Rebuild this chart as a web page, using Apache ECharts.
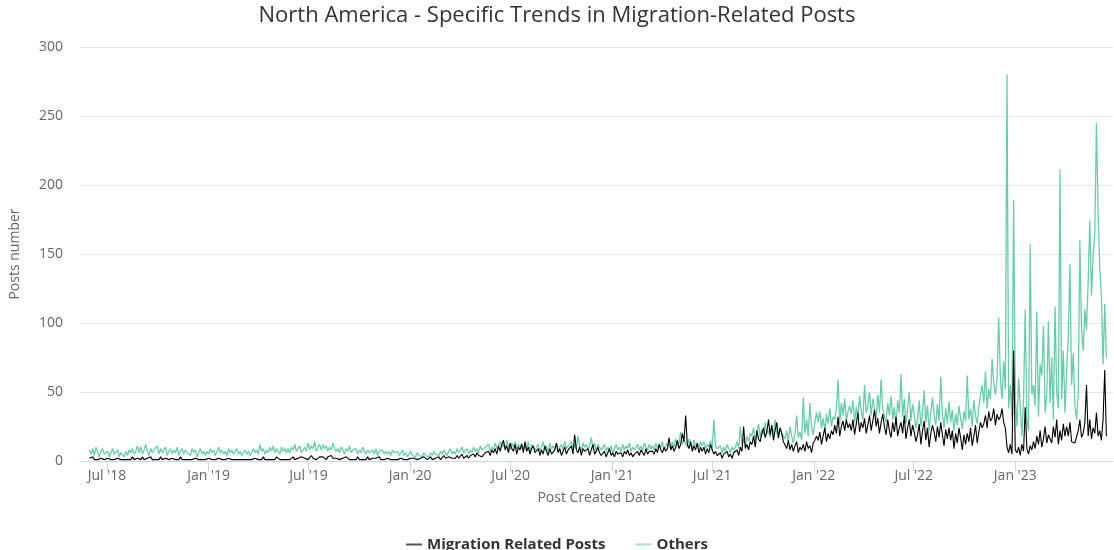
<!DOCTYPE html>
<html>
<head>
<meta charset="utf-8">
<script src="https://cdn.jsdelivr.net/npm/echarts@6/dist/echarts.min.js"></script>
<style>
html,body{margin:0;padding:0;background:#fff}
#chart{width:1114px;height:550px}
</style>
</head>
<body>
<div id="chart"></div>
<script>
// one value every 3 days, starting 2018-05-30
var startDate = '2018-05-30';
var stepDays = 3;

var tickDates = ['2018-07-01','2019-01-01','2019-07-01','2020-01-01','2020-07-01',
  '2021-01-01','2021-07-01','2022-01-01','2022-07-01','2023-01-01'];
var monthNames = ['Jan','Feb','Mar','Apr','May','Jun','Jul','Aug','Sep','Oct','Nov','Dec'];

var migration = [
  2,1,3,1,2,1,1,2,3,1,
  1,2,1,1,2,1,1,2,1,1,
  1,1,2,1,2,1,3,1,2,2,
  2,1,3,1,2,2,1,3,1,2,
  1,2,1,3,1,2,2,1,1,2,
  2,1,1,2,1,3,1,2,1,1,
  1,2,1,1,2,1,1,2,1,1,
  1,1,2,1,1,2,1,1,2,1,
  1,2,1,1,2,1,1,2,1,1,
  1,1,1,2,1,1,1,2,1,1,
  2,1,1,2,1,3,1,2,1,1,
  1,2,1,3,2,1,2,1,2,1,
  2,1,2,3,1,2,2,1,3,2,
  2,3,1,2,4,2,3,1,2,3,
  2,3,2,1,3,2,4,2,1,2,
  3,1,2,2,1,3,2,1,2,1,
  2,1,3,1,2,1,2,1,3,1,
  1,2,1,2,1,3,1,2,1,2,
  2,1,1,2,1,2,1,1,2,1,
  1,2,1,1,2,1,2,1,1,2,
  2,1,3,2,1,2,3,1,2,2,
  2,3,1,2,4,2,1,3,2,2,
  3,2,4,2,3,5,2,3,4,2,
  4,3,5,3,6,4,5,3,4,6,
  5,7,4,8,6,9,5,11,7,12,
  15,8,11,6,13,9,7,12,5,10,
  8,12,6,14,7,10,5,9,11,6,
  6,9,4,8,5,11,7,4,9,5,
  5,8,13,6,9,4,7,10,5,8,
  7,11,5,19,8,6,10,4,9,7,
  6,9,4,8,12,5,7,10,6,4,
  5,7,3,6,9,4,6,3,7,5,
  4,6,3,7,5,8,4,6,3,5,
  5,7,4,8,6,4,9,5,7,6,
  7,5,9,6,12,8,6,10,7,9,
  17,8,11,7,10,15,9,12,20,14,
  33,12,9,14,7,11,8,13,6,10,
  7,10,5,9,6,12,8,5,7,4,
  3,6,2,5,4,7,3,5,2,6,
  5,8,4,10,7,25,9,12,8,14,
  12,18,10,22,16,14,20,24,17,21,
  30,19,26,15,22,28,17,24,20,14,
  13,9,15,8,12,7,11,14,6,10,
  8,12,7,14,9,11,6,13,15,18,
  15,21,12,18,24,14,20,16,22,19,
  26,20,32,18,25,29,22,30,24,27,
  22,30,19,27,35,21,28,24,31,20,
  26,33,22,29,37,25,31,20,28,34,
  25,19,30,22,17,28,21,32,18,24,
  28,20,33,16,24,30,18,26,21,14,
  19,27,12,22,29,15,24,10,20,26,
  21,14,25,17,28,19,11,23,16,24,
  15,22,9,20,13,24,17,8,19,12,
  20,14,24,11,18,26,13,21,28,24,
  27,33,24,36,29,31,38,26,34,30,
  32,38,28,24,10,6,12,5,80,8,
  6,10,4,12,7,39,9,5,11,8,
  14,9,18,12,22,10,16,25,13,19,
  20,13,25,17,30,12,22,15,27,18,
  25,18,28,14,13,13,13,22,30,17,
  20,28,55,18,30,16,24,20,35,18,
  22,15,30,66,18
];

var others = [
  8,5,9,4,10,6,3,7,9,5,
  4,7,3,6,9,5,4,8,3,6,
  5,3,7,4,8,6,9,5,7,11,
  6,10,5,8,12,7,4,9,6,8,
  7,11,5,9,6,8,10,4,7,9,
  5,8,6,10,4,7,9,5,8,6,
  7,4,9,6,8,3,6,9,5,7,
  4,7,5,9,6,8,4,7,10,6,
  8,5,7,4,9,6,8,5,7,9,
  5,7,4,6,8,5,7,4,6,9,
  6,8,5,12,7,9,5,8,6,10,
  7,11,6,9,8,5,10,7,9,6,
  9,6,10,8,12,7,9,11,6,8,
  10,7,13,8,11,9,14,7,10,12,
  8,12,9,11,7,10,8,13,9,7,
  9,6,10,8,5,9,7,11,6,8,
  7,9,5,8,6,10,7,5,8,6,
  6,8,5,9,4,7,6,8,5,7,
  5,7,4,8,6,5,7,4,6,8,
  4,6,3,5,7,4,5,3,6,4,
  5,3,6,4,5,3,6,4,7,5,
  6,4,7,5,8,6,4,7,9,5,
  7,5,9,6,8,10,6,7,9,5,
  8,6,10,7,9,6,11,8,7,10,
  9,12,7,10,8,13,9,11,14,10,
  12,9,15,11,8,13,10,14,9,12,
  10,13,8,11,9,14,7,12,10,8,
  9,12,7,10,14,8,11,6,13,9,
  11,8,13,7,10,12,8,14,9,11,
  10,14,8,12,9,18,11,7,13,10,
  12,8,11,17,9,13,7,12,10,8,
  9,12,7,10,8,11,6,9,12,8,
  10,7,12,8,11,9,13,7,10,8,
  9,12,8,11,7,13,10,8,12,9,
  11,8,13,9,12,10,14,8,11,13,
  12,9,14,10,16,11,13,21,12,15,
  14,10,16,12,9,15,11,13,10,14,
  11,14,9,12,10,15,8,30,11,9,
  8,11,6,10,7,12,9,6,10,8,
  10,14,9,25,12,16,11,18,14,20,
  18,24,15,21,27,17,23,19,28,20,
  22,17,25,19,30,21,16,24,20,18,
  16,22,14,25,18,13,20,33,17,21,
  15,46,20,30,18,42,25,19,28,35,
  28,36,24,31,22,34,27,38,25,32,
  30,38,59,27,42,33,45,29,36,40,
  34,44,28,39,31,47,36,30,55,35,
  40,50,33,45,38,30,48,35,59,37,
  36,28,42,33,47,30,39,26,44,35,
  63,32,45,27,38,50,29,41,34,24,
  30,44,25,36,51,28,40,22,35,46,
  33,26,41,29,61,35,24,38,27,43,
  28,37,22,34,26,40,31,23,36,29,
  62,30,38,25,44,33,27,39,48,55,
  42,65,38,52,45,74,56,48,60,104,
  60,45,72,52,280,38,55,30,189,45,
  25,60,40,18,45,110,30,22,157,48,
  55,40,108,32,70,62,98,35,48,101,
  42,75,30,112,50,38,211,45,80,35,
  65,90,143,55,78,40,30,48,160,95,
  80,110,95,130,174,120,150,165,245,181,
  140,120,70,114,75
];

var DAY = 86400000;
var t0 = Date.parse(startDate + 'T00:00:00Z');

function toPairs(arr) {
  var out = [];
  for (var i = 0; i < arr.length; i++) {
    out.push([t0 + i * stepDays * DAY, arr[i]]);
  }
  return out;
}

var tickValues = tickDates.map(function (s) { return Date.parse(s + 'T00:00:00Z'); });

var font = "'Open Sans', sans-serif";
var chart = echarts.init(document.getElementById('chart'));

option = {
  animation: false,
  backgroundColor: '#fff',
  title: {
    text: 'North America - Specific Trends in Migration-Related Posts',
    left: 'center',
    top: 0,
    textStyle: { fontFamily: font, fontSize: 22, fontWeight: 'normal', color: '#333' }
  },
  legend: {
    top: 532,
    left: 'center',
    itemGap: 30,
    itemWidth: 16,
    itemHeight: 2,
    icon: 'rect',
    textStyle: { fontFamily: font, fontSize: 15, fontWeight: 'bold', color: '#333' },
    data: [
      { name: 'Migration Related Posts', itemStyle: { color: '#555' } },
      { name: 'Others', itemStyle: { color: '#a3e3cb' } }
    ]
  },
  grid: { left: 79, right: 1, top: 47, bottom: 89 },
  xAxis: {
    type: 'value',
    min: Date.parse('2018-05-13T00:00:00Z'),
    max: Date.parse('2023-06-27T00:00:00Z'),
    name: 'Post Created Date',
    nameLocation: 'middle',
    nameGap: 30,
    nameTextStyle: { fontFamily: font, fontSize: 14, color: '#666' },
    axisLine: { show: true, onZero: false, lineStyle: { color: '#ccd6eb', width: 1 } },
    axisTick: { show: true, length: 10, customValues: tickValues, lineStyle: { color: '#ccd6eb' } },
    axisLabel: {
      customValues: tickValues,
      fontFamily: font, fontSize: 14, color: '#666', margin: 8,
      formatter: function (val) {
        var d = new Date(val);
        return monthNames[d.getUTCMonth()] + " '" + String(d.getUTCFullYear()).slice(2);
      }
    },
    splitLine: { show: false }
  },
  yAxis: {
    type: 'value',
    min: 0,
    max: 300,
    interval: 50,
    name: 'Posts number',
    nameLocation: 'middle',
    nameGap: 58,
    nameTextStyle: { fontFamily: font, fontSize: 14, color: '#666' },
    axisLine: { show: false },
    axisTick: { show: false },
    axisLabel: { fontFamily: font, fontSize: 14, color: '#666', margin: 17 },
    splitLine: { lineStyle: { color: '#e6e6e6', width: 1 } }
  },
  series: [
    {
      name: 'Migration Related Posts',
      type: 'line',
      data: toPairs(migration),
      showSymbol: false,
      z: 3,
      lineStyle: { color: '#000', width: 1.1 },
      itemStyle: { color: '#000' }
    },
    {
      name: 'Others',
      type: 'line',
      data: toPairs(others),
      showSymbol: false,
      z: 2,
      lineStyle: { color: '#66cdaa', width: 1.3 },
      itemStyle: { color: '#66cdaa' }
    }
  ]
};

chart.setOption(option);
</script>
</body>
</html>
